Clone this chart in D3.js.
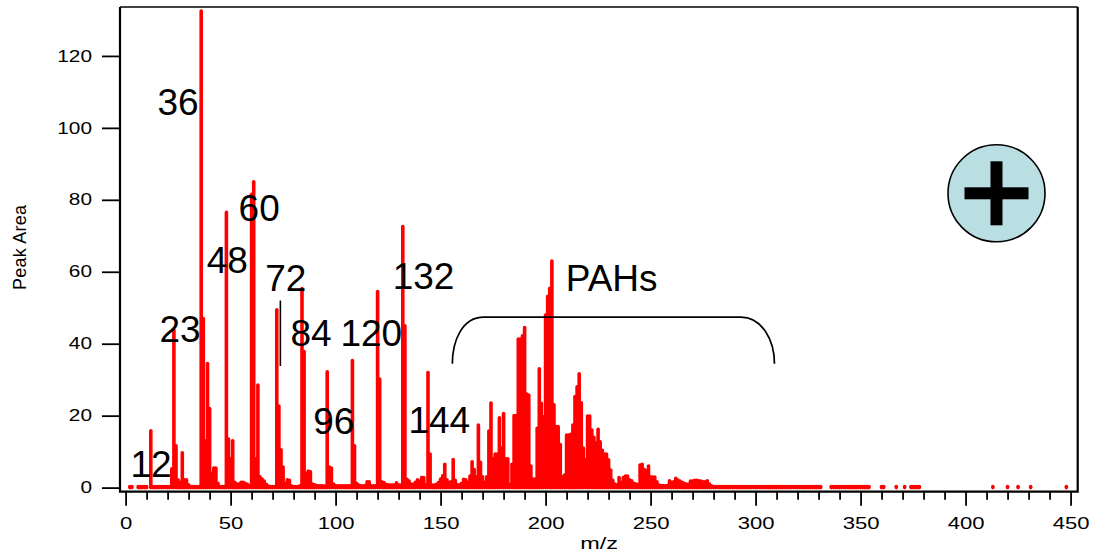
<!DOCTYPE html>
<html>
<head>
<meta charset="utf-8">
<script src="https://cdn.jsdelivr.net/npm/d3@7"></script>
<style>
    html, body { margin: 0; padding: 0; background: #fff; }
    svg { display: block; }
    text { font-family: "Liberation Sans", Arial, sans-serif; fill: #000; }
</style>
</head>
<body>
<div id="chart"></div>
<script>
// peak area per unit m/z, the index in this array is the m/z (ten per row)
const peakArea = [
    null, null, .3, .3, null, null, .3, .3, .3, .3,
    .3, null, 15.8, .3, .3, .3, .3, .3, .3, .3,
    .3, .3, 5.2, 43.8, 11.6, 2.1, 1.5, 9.7, 2.2, 2.2,
    .8, .3, .3, .3, .3, .3, 132.5, 47, 13, 34.5,
    22, 4, 5.4, 5.4, 1.2, .3, .3, .3, 76.5, 13.5,
    8, 13, 1.5, 1, 1, 1.5, 1.5, 1.2, .9, .5,
    81.5, 85, 8, 28.5, 3, 2.4, 1.8, .9, .4, .3,
    .3, .3, 49.4, 22.7, 10.5, 5.7, 1.2, 2.2, 2, .5,
    .3, .3, .3, .5, 55.3, 37.8, 4, 4.6, 4.4, 1,
    .8, .6, .5, .5, .5, .4, 32.2, 5.7, 5.4, 1,
    .6, .5, .5, .5, .5, .5, .5, .5, 35.3, 11.6,
    1.2, .7, .5, .5, .6, 1.6, 1.6, .5, .5, .5,
    54.5, 30.2, 1.6, 1.4, .9, .8, .7, .7, .8, 1.3,
    .8, .7, 72.6, 45, 2.3, 1.8, 1, .9, 1.5, 2.2,
    1.8, 2.8, 2.8, .8, 32, 9.3, .7, .7, .9, 1.4,
    2.4, 3.3, 6.5, 2.2, 1.5, 1.6, 7.8, 2, .8, .8,
    1.2, 2.3, 2.2, 1.5, 3.2, 7.2, 5, 3, 17.4, 7,
    3, 1.5, 3, 15.7, 23.5, 8, 9.3, 9.3, 19.4, 11,
    20.6, 8, 8, .9, 6.5, 20, 20, 41.3, 41.3, 42.2,
    44.5, 26, 25.7, 6, 2.4, 2.4, 16.5, 33, 23.4, 19.7,
    48, 53.2, 55.4, 63, 23, 17, 17, 12, 3, 3.5,
    14.6, 14.6, 14.8, 17.4, 25.3, 28, 31.6, 23.6, 11, 7.7,
    19.9, 19.9, 16, 14, 12.5, 16.2, 12.7, 10.4, 9.3, 9.3,
    7.7, 4.9, 2, 1, .8, 2.8, 1.5, 2.8, 3.2, 3.2,
    2.2, 1.9, 1.2, 1, .9, 6.3, 6.5, 5, 4.7, 6,
    3, 2.9, 2.9, 1.6, .7, .6, .6, .5, .6, 1.9,
    1.5, 1.6, 2.6, 2.1, 1.8, 1.5, 1.2, 1, .9, 1.8,
    1.8, 2, 2, 1.9, 1.8, 1.6, 1.6, 1.9, 1, .5,
    .3, .3, .3, .3, .3, .3, .3, .3, .3, .3,
    .3, .3, .3, .3, .3, .3, .3, .3, .3, .3,
    .3, .3, .3, .3, .3, .3, .3, .3, .3, .3,
    .3, .3, .3, .3, .3, .3, .3, .3, .3, .3,
    .3, .3, .3, .3, .3, .3, .3, .3, .3, .3,
    .3, .3, null, null, null, null, .3, .3, .3, .3,
    .3, .3, .3, .3, .3, .3, .3, .3, .3, .3,
    .3, .3, .3, .3, .3, null, null, null, null, null,
    .3, .3, null, null, null, null, null, .3, null, null,
    null, .3, null, null, .3, .3, .3, .3, .3, null
];

// lone peaks further out
const isolatedMz = [413, 420, 425, 431, 448];
const isolatedArea = [.3, .3, .3, .3, .3];

const xMajorTicks = [0, 50, 100, 150, 200, 250, 300, 350, 400, 450];
const xMinorTicks = [10, 20, 30, 40, 60, 70, 80, 90, 110, 120, 130, 140, 160, 170, 180, 190,
    210, 220, 230, 240, 260, 270, 280, 290, 310, 320, 330, 340, 360, 370, 380, 390,
    410, 420, 430, 440];
const yTicks = [0, 20, 40, 60, 80, 100, 120];

// the numbers written next to the peaks, with their baseline in data units
const peakLabels = ["12", "23", "36", "48", "60", "72", "84", "96", "120", "132", "144", "PAHs"];
const labelMz = [2.3, 16.1, 15.2, 38.6, 53.8, 66.5, 78.5, 89.3, 102.3, 127.2, 134.7, 209.6];
const labelArea = [2.9, 40.5, 103.5, 59.7, 74.2, 54.7, 39.5, 14.8, 39.5, 55.3, 15.3, 54.7];

const width = 1094;
const height = 555;
const plotLeft = 120, plotRight = 1077.7, plotTop = 7, plotBottom = 491.7;

const x = d3.scaleLinear().domain([-2.67, 453.4]).range([plotLeft, plotRight]);
const y = d3.scaleLinear().domain([-1.14, 133.6]).range([plotBottom, plotTop]);

const svg = d3.select("#chart").append("svg")
    .attr("width", width)
    .attr("height", height);

// sticks, a zero length line with a round cap gives the small dots at the far end
const peaks = peakArea
    .map((area, mz) => ({ mz: mz, area: area }))
    .filter(d => d.area !== null)
    .concat(isolatedMz.map((mz, i) => ({ mz: mz, area: isolatedArea[i] })));

svg.append("g")
    .selectAll("line")
    .data(peaks)
    .enter().append("line")
    .attr("x1", d => x(d.mz))
    .attr("x2", d => x(d.mz))
    .attr("y1", y(0))
    .attr("y2", d => y(d.area))
    .attr("stroke", "#ff0000")
    .attr("stroke-width", 3.6)
    .attr("stroke-linecap", "round");

// frame, the top edge is thinner than the other three
svg.append("line")
    .attr("x1", plotLeft).attr("x2", plotRight)
    .attr("y1", plotTop).attr("y2", plotTop)
    .attr("stroke", "#000").attr("stroke-width", 1.3);

svg.append("path")
    .attr("d", `M${plotLeft},${plotTop}V${plotBottom}H${plotRight}V${plotTop}`)
    .attr("fill", "none")
    .attr("stroke", "#000")
    .attr("stroke-width", 2.2);

const xAxis = svg.append("g")
    .attr("transform", `translate(0,${plotBottom})`)
    .call(d3.axisBottom(x).tickValues(xMajorTicks).tickSize(14).tickPadding(12));

svg.append("g")
    .attr("transform", `translate(0,${plotBottom})`)
    .call(d3.axisBottom(x).tickValues(xMinorTicks).tickSize(8).tickFormat(""))
    .call(g => g.select(".domain").remove());

const yAxis = svg.append("g")
    .attr("transform", `translate(${plotLeft},0)`)
    .call(d3.axisLeft(y).tickValues(yTicks).tickSize(18));

svg.selectAll(".domain").remove();
svg.selectAll(".tick line").attr("stroke", "#000").attr("stroke-width", 1.8);

// tick labels are wider than the plain font in the original
xAxis.selectAll("text")
    .attr("font-size", 16)
    .attr("transform", "scale(1.38,1)");

yAxis.selectAll("text")
    .attr("x", 0)
    .attr("text-anchor", "end")
    .attr("font-size", 16)
    .attr("transform", "translate(-28,0) scale(1.3,1)");

svg.append("text")
    .attr("transform", `translate(${x(225.5)},549) scale(1.38,1)`)
    .attr("text-anchor", "middle")
    .attr("font-size", 17)
    .text("m/z");

svg.append("text")
    .attr("transform", "translate(25.5,247.5) rotate(-90)")
    .attr("text-anchor", "middle")
    .attr("font-size", 18)
    .attr("textLength", 85)
    .text("Peak Area");

svg.append("g")
    .selectAll("text")
    .data(peakLabels)
    .enter().append("text")
    .attr("x", (d, i) => x(labelMz[i]))
    .attr("y", (d, i) => y(labelArea[i]))
    .attr("font-size", 37)
    .text(d => d);

// bracket over the PAH region
const bracket = d3.path();
bracket.moveTo(x(155.6), y(34.4));
bracket.bezierCurveTo(x(155.6), y(41), x(160.5), y(47.4), x(170.5), y(47.4));
bracket.lineTo(x(293), y(47.4));
bracket.bezierCurveTo(x(303), y(47.4), x(309), y(41), x(309), y(34.4));

svg.append("path")
    .attr("d", bracket.toString())
    .attr("fill", "none")
    .attr("stroke", "#000")
    .attr("stroke-width", 1.7);

// small marker next to the 72 peak
svg.append("line")
    .attr("x1", x(73.7))
    .attr("x2", x(73.7))
    .attr("y1", y(52))
    .attr("y2", y(33.8))
    .attr("stroke", "#000")
    .attr("stroke-width", 1.6);

// positive mode symbol
const badge = svg.append("g").attr("transform", "translate(996.5,193.3)");
badge.append("circle")
    .attr("r", 48.5)
    .attr("fill", "#b9dfe3")
    .attr("stroke", "#000")
    .attr("stroke-width", 1.6);
badge.append("rect").attr("x", -32).attr("y", -6).attr("width", 64).attr("height", 12);
badge.append("rect").attr("x", -6).attr("y", -32).attr("width", 12).attr("height", 64);
</script>
</body>
</html>
